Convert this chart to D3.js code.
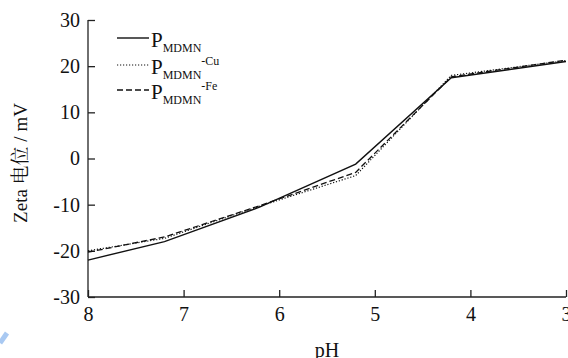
<!DOCTYPE html>
<html><head><meta charset="utf-8">
<script src="https://cdn.jsdelivr.net/npm/d3@7"></script>
<style>body{margin:0;background:#fff}svg{display:block}</style>
</head><body><svg id="c" width="568" height="358"></svg>
<script>
const pH = [8, 7.2, 6.2, 5.2, 4.2, 3];
const seriesNames = ["P_MDMN", "P_MDMN-Cu", "P_MDMN-Fe"];
const zetaMDMN = [-22, -18, -10.5, -1.2, 17.5, 21];
const zetaCu = [-20, -17.3, -10.3, -3.7, 18, 21.2];
const zetaFe = [-20.3, -17, -10.2, -3, 17.7, 21.3];
const yTicks = [-30, -20, -10, 0, 10, 20, 30];
const xTicks = [8, 7, 6, 5, 4, 3];

const SERIF = "'Liberation Serif', 'Times New Roman', serif";
const svg = d3.select("#c");
const x = d3.scaleLinear().domain([8, 3]).range([88, 566]);
const y = d3.scaleLinear().domain([-30, 30]).range([297, 20]);

// decoration
svg.append("line").attr("x1", 0).attr("y1", 343).attr("x2", 7).attr("y2", 333)
  .attr("stroke", "#a9c9f2").attr("stroke-width", 5);

const fmt = d => String(d);
const xa = svg.append("g").attr("transform", "translate(0,297)")
  .call(d3.axisBottom(x).tickValues(xTicks).tickSize(-7).tickPadding(10).tickFormat(fmt));
const ya = svg.append("g").attr("transform", "translate(88,0)")
  .call(d3.axisLeft(y).tickValues(yTicks).tickSize(-7).tickPadding(8).tickFormat(fmt));
[xa, ya].forEach(a => {
  a.attr("font-family", SERIF);
  a.select(".domain").attr("stroke", "#222").attr("stroke-width", 1.3);
  a.selectAll(".tick line").attr("stroke", "#222").attr("stroke-width", 1.3);
  a.selectAll(".tick text").style("font-size", "20px").style("font-family", SERIF).style("fill", "#111");
});
ya.select(".domain").attr("d", "M0,20V297");
xa.select(".domain").attr("d", "M88,0H566");

const line = d3.line().x((d, i) => x(pH[i])).y(d => y(d));
const styles = [
  {data: zetaMDMN, dash: null, w: 1.4},
  {data: zetaCu, dash: "1.2,1.8", w: 1.2},
  {data: zetaFe, dash: "6,3", w: 1.3}
];
styles.forEach(s => {
  svg.append("path").datum(s.data).attr("d", line).attr("fill", "none")
    .attr("stroke", "#111").attr("stroke-width", s.w)
    .attr("stroke-dasharray", s.dash);
});

// legend
const sups = ["", "-Cu", "-Fe"];
const rowY = [38, 65, 90];
styles.forEach((s, i) => {
  const ly = rowY[i];
  svg.append("line").attr("x1", 117).attr("x2", 149).attr("y1", ly).attr("y2", ly)
    .attr("stroke", "#111").attr("stroke-width", s.w).attr("stroke-dasharray", s.dash);
  const t = svg.append("text").attr("x", 151).attr("y", ly + 9)
    .style("font-size", "21px").style("font-family", SERIF).style("fill", "#111");
  t.append("tspan").text("P");
  t.append("tspan").style("font-size", "12px").attr("dy", 5).text("MDMN");
  if (sups[i]) t.append("tspan").style("font-size", "12px").attr("dy", -14).text(sups[i]);
});

svg.append("text").attr("transform", "translate(27,163) rotate(-90)")
  .attr("text-anchor", "middle")
  .style("font-size", "19px").style("fill", "#111")
  .style("font-family", "'Liberation Serif', 'Noto Serif CJK SC', serif").text("Zeta 电位 / mV");
svg.append("text").attr("x", 327).attr("y", 357).attr("text-anchor", "middle")
  .style("font-size", "20px").style("font-family", SERIF).style("fill", "#111").text("pH");
</script></body></html>
